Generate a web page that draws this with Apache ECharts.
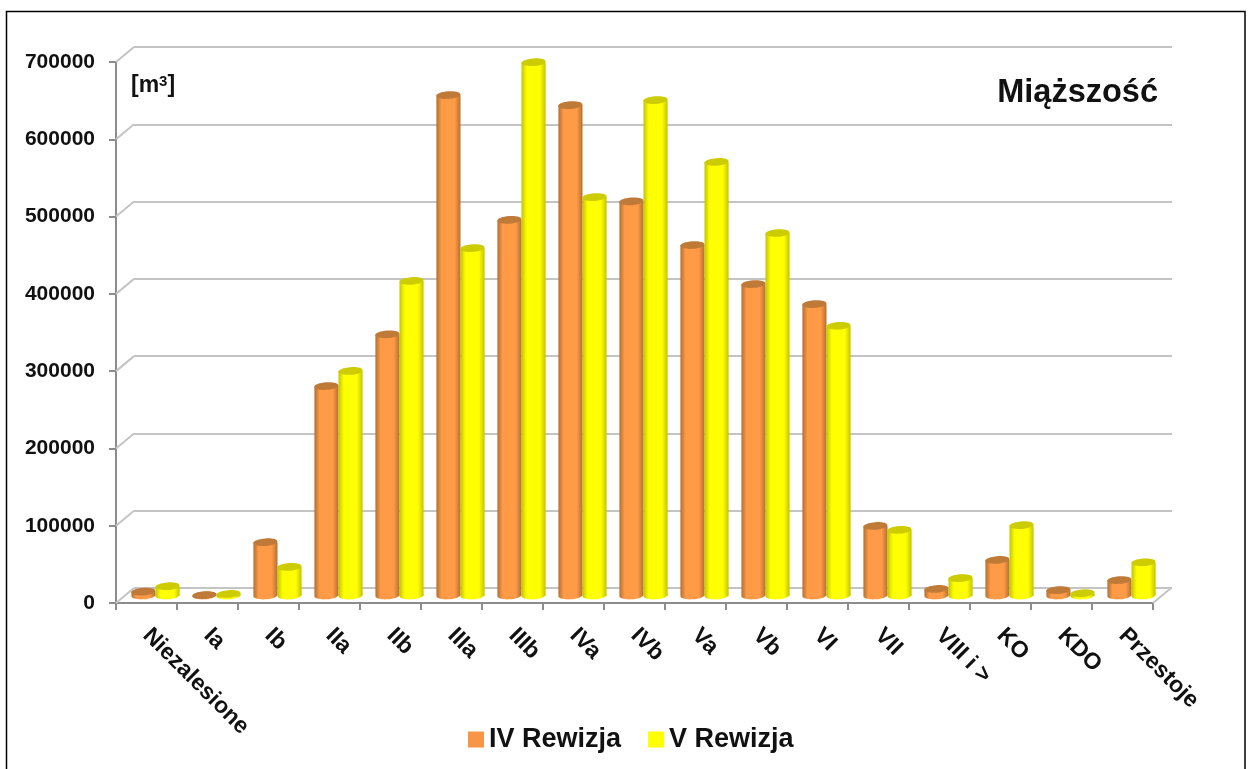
<!DOCTYPE html>
<html><head><meta charset="utf-8">
<style>html,body{margin:0;padding:0;background:#fff}#c{width:1248px;height:769px}</style>
<script src="https://cdn.jsdelivr.net/npm/echarts@6/dist/echarts.min.js"></script>
</head><body><div id="c"></div>
<script>
const categories = ['Niezalesione','Ia','Ib','IIa','IIb','IIIa','IIIb','IVa','IVb','Va','Vb','VI','VII','VIII i >','KO','KDO','Przestoje'];
const rewizja4 = [5000,500,69000,271000,338000,647500,486000,634500,510000,453500,403000,377000,90000,8500,46000,7000,20000];
const rewizja5 = [12000,2000,37000,290500,407000,449500,690000,515500,641000,561000,469000,349000,85000,22500,91000,3000,43000];
const yTicks = [0,100000,200000,300000,400000,500000,600000,700000];
const FONT = '"Liberation Sans", Arial, sans-serif';
const chart = echarts.init(document.getElementById('c'));

function grad(edge, mid){
  return new echarts.graphic.LinearGradient(0,0,1,0,[
    {offset:0,color:edge},{offset:0.22,color:mid},{offset:0.76,color:mid},{offset:1,color:edge}]);
}
function cylinder(side, edge, mid, cap){
  return function(params, api){
    const top = api.coord([api.value(0), api.value(1)]);
    const base = api.coord([api.value(0), 0]);
    const w = api.size([1,0])[0]*0.395;
    const cx = top[0] + side*w/2;
    const ry = 3.8, tilt = 0.07;
    const fill = grad(edge, mid);
    return {type:'group', children:[
      {type:'ellipse', shape:{cx:cx,cy:base[1],rx:w/2,ry:ry}, originX:cx, originY:base[1], rotation:tilt, style:{fill:fill}},
      {type:'rect', shape:{x:cx-w/2,y:top[1],width:w,height:Math.max(base[1]-top[1],0)}, style:{fill:fill}},
      {type:'ellipse', shape:{cx:cx,cy:top[1],rx:w/2,ry:ry}, originX:cx, originY:top[1], rotation:tilt, style:{fill:cap}}
    ]};
  };
}
const DX = 18, DY = -15;
function connector(params, api){
  const p = api.coord([0, api.value(0)]);
  const x = params.coordSys.x;
  return {type:'line', shape:{x1:x,y1:p[1],x2:x+DX,y2:p[1]+DY}, style:{stroke:'#c4c4c4',lineWidth:2}};
}
function floorEdge(params, api){
  const p = api.coord([0, api.value(0)]);
  const x = params.coordSys.x + params.coordSys.width;
  return {type:'line', shape:{x1:x,y1:p[1],x2:x+DX,y2:p[1]+DY}, style:{stroke:'#c4c4c4',lineWidth:2}};
}
const yBase = {type:'value',min:0,max:700000,interval:100000};
chart.setOption({
  animation:false,
  backgroundColor:'#fff',
  title:[
    {text:'Miąższość',right:85,top:72,textStyle:{fontFamily:FONT,fontWeight:'bold',fontSize:32.5,color:'#111'}},
    {text:'{a|[m}{b|3}{a|]}',left:126,top:69,textStyle:{rich:{
      a:{fontFamily:FONT,fontWeight:'bold',fontSize:23,color:'#111',verticalAlign:'bottom'},
      b:{fontFamily:FONT,fontSize:15,color:'#111',verticalAlign:'top',padding:[0,0,8,0]}}}}
  ],
  legend:{left:463,top:721,icon:'rect',itemWidth:16,itemHeight:16,itemGap:27,
    textStyle:{fontFamily:FONT,fontWeight:'bold',fontSize:27,color:'#111'},
    data:['IV Rewizja','V Rewizja']},
  grid:[
    {left:116,top:62,width:1037,height:541},
    {left:134,top:47,width:1038,height:541},
    {left:125,top:54.5,width:1037,height:541}
  ],
  xAxis:[
    {type:'category',gridIndex:0,data:categories,
      axisLine:{lineStyle:{color:'#8c8c8c',width:2}},
      axisTick:{show:true,length:7,lineStyle:{color:'#8c8c8c',width:2}},
      axisLabel:{interval:0,rotate:-45,margin:29,fontFamily:FONT,fontWeight:'bold',fontSize:23,color:'#111'}},
    {type:'category',gridIndex:1,data:categories,show:false},
    {type:'category',gridIndex:2,data:categories,show:false}
  ],
  yAxis:[
    Object.assign({},yBase,{gridIndex:0,
      axisLine:{show:true,lineStyle:{color:'#8c8c8c',width:2}},
      axisTick:{show:true,length:7,lineStyle:{color:'#8c8c8c',width:2}},
      splitLine:{show:false},
      axisLabel:{margin:21,fontFamily:FONT,fontWeight:'bold',fontSize:21,color:'#111',formatter:v=>String(v)}}),
    Object.assign({},yBase,{gridIndex:1,axisLine:{show:false},axisTick:{show:false},axisLabel:{show:false},
      splitLine:{show:true,lineStyle:{color:'#c4c4c4',width:2}}}),
    Object.assign({},yBase,{gridIndex:2,show:false,splitLine:{show:false}})
  ],
  series:[
    {type:'custom',name:'connectors',xAxisIndex:0,yAxisIndex:0,z:1,silent:true,renderItem:connector,clip:false,
      data:yTicks.map(v=>[v]),encode:{y:0}},
    {type:'custom',name:'floor',xAxisIndex:0,yAxisIndex:0,z:1,silent:true,renderItem:floorEdge,clip:false,
      data:[[0]],encode:{y:0}},
    {type:'custom',name:'IV Rewizja',xAxisIndex:2,yAxisIndex:2,z:3,clip:false,
      itemStyle:{color:'#f79646'},
      renderItem:cylinder(-1,'#b3702f','#ff9a47','#bf7a38'),
      data:rewizja4.map((v,i)=>[i,v]),encode:{x:0,y:1}},
    {type:'custom',name:'V Rewizja',xAxisIndex:2,yAxisIndex:2,z:4,clip:false,
      itemStyle:{color:'#ffff00'},
      renderItem:cylinder(1,'#c4c400','#ffff00','#cccc00'),
      data:rewizja5.map((v,i)=>[i,v]),encode:{x:0,y:1}}
  ],
  graphic:[{type:'rect',z:100,silent:true,shape:{x:6.5,y:11.5,width:1238.5,height:780},
    style:{fill:'none',stroke:'#000',lineWidth:1.5}}]
});
</script></body></html>
